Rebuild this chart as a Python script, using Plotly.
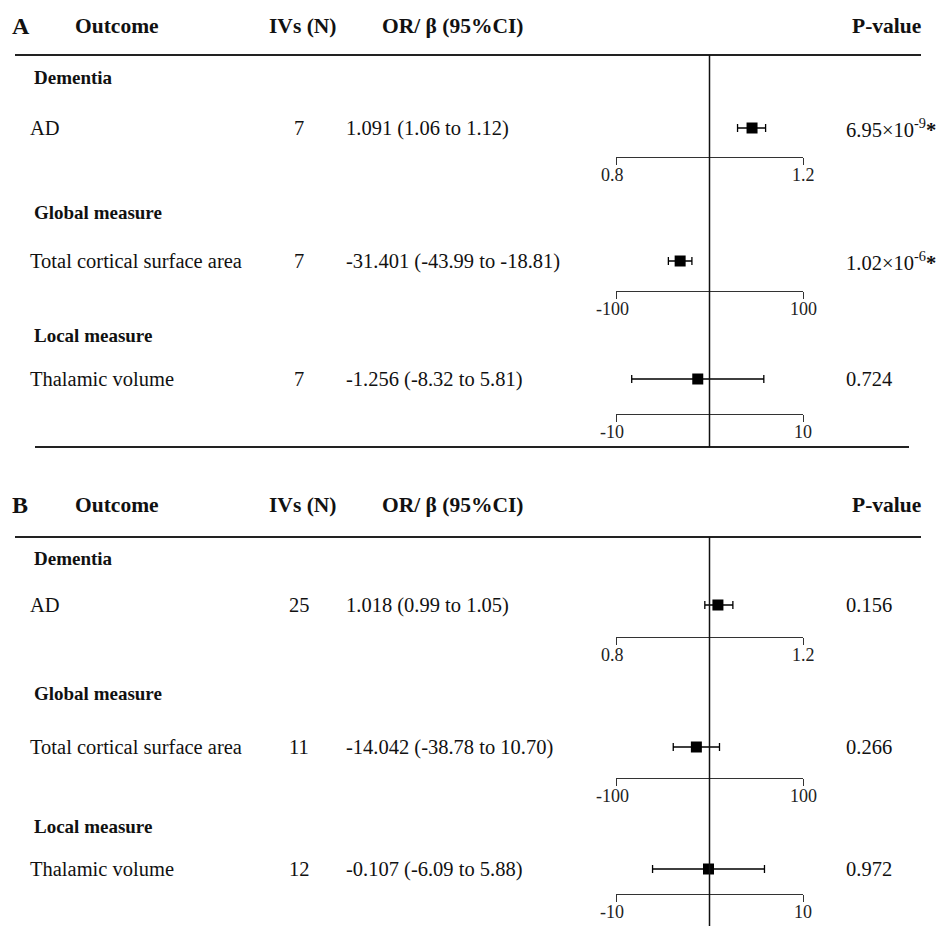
import plotly.graph_objects as go

# ---- data -------------------------------------------------------------
panels = ["A", "B"]
groups = ["Dementia", "Global measure", "Local measure"]
outcomes = ["AD", "Total cortical surface area", "Thalamic volume"]

ivs_a = [7, 7, 7]
est_a = [1.091, -31.401, -1.256]
lo_a = [1.06, -43.99, -8.32]
hi_a = [1.12, -18.81, 5.81]
p_a = ["6.95×10<sup>-9</sup>", "1.02×10<sup>-6</sup>", "0.724"]
sig_a = [True, True, False]

ivs_b = [25, 11, 12]
est_b = [1.018, -14.042, -0.107]
lo_b = [0.99, -38.78, -6.09]
hi_b = [1.05, 10.70, 5.88]
p_b = ["0.156", "0.266", "0.972"]
sig_b = [False, False, False]

axis_min = [0.8, -100, -10]
axis_max = [1.2, 100, 10]
axis_ticklabels = [["0.8", "1.2"], ["-100", "100"], ["-10", "10"]]
null_value = [1.0, 0.0, 0.0]

# ---- layout geometry (pixels, top-down) -------------------------------
W, H = 941, 926
SERIF = "Liberation Serif"
INK = "#111111"

panel_layout = [
    dict(header=26, rule=55, groups=[77, 212, 335], rows=[128, 261, 379],
         axes=[157, 291, 414], vline_end=447, bottom=447),
    dict(header=505, rule=537, groups=[558, 693, 826], rows=[605, 747, 869],
         axes=[637, 778, 894], vline_end=926, bottom=None),
]
forest_left, forest_right = 616, 803
col_name, col_ivs, col_est, col_p = 28, 299, 344, 844
label_gap = 18  # distance from axis line to tick-label centre


def px(x):
    return x / W


panel_data = [
    (ivs_a, est_a, lo_a, hi_a, p_a, sig_a),
    (ivs_b, est_b, lo_b, hi_b, p_b, sig_b),
]

fig = go.Figure()
annotations = []
shapes = []
layout_axes = {}


def text(x, y, s, size=20.5, bold=False, xanchor="left", xref="paper", xshift=0,
         color=INK):
    annotations.append(dict(
        x=px(x) if xref == "paper" else x, y=y, xref=xref, yref="y",
        text=f"<b>{s}</b>" if bold else s, xshift=xshift,
        showarrow=False, xanchor=xanchor, yanchor="middle",
        font=dict(family=SERIF, size=size, color=color),
    ))


axis_idx = 0
for pi, (label, geo, data) in enumerate(zip(panels, panel_layout, panel_data)):
    ivs, est, lo, hi, pv, sig = data

    # column headers
    text(10, geo["header"], label, size=24, bold=True)
    text(73, geo["header"], "Outcome", size=21.5, bold=True)
    text(267, geo["header"], "IVs (N)", size=21.5, bold=True)
    text(380, geo["header"], "OR/ β (95%CI)", size=21.5, bold=True)
    text(923, geo["header"], "P-value", size=21.5, bold=True, xanchor="right")

    shapes.append(dict(type="line", xref="paper", yref="y",
                       x0=px(15), x1=px(921), y0=geo["rule"], y1=geo["rule"],
                       line=dict(color="#222222", width=2)))
    if geo["bottom"] is not None:
        shapes.append(dict(type="line", xref="paper", yref="y",
                           x0=px(35), x1=px(909), y0=geo["bottom"], y1=geo["bottom"],
                           line=dict(color="#222222", width=2)))

    first_axis = None
    for k in range(3):
        axis_idx += 1
        xname = "x" if axis_idx == 1 else f"x{axis_idx}"
        lname = "xaxis" if axis_idx == 1 else f"xaxis{axis_idx}"
        if first_axis is None:
            first_axis = (xname, k)

        layout_axes[lname] = dict(
            domain=[px(forest_left), px(forest_right)],
            range=[axis_min[k], axis_max[k]],
            anchor="free", position=1 - geo["axes"][k] / H, side="bottom",
            showline=True, linecolor="#333333", linewidth=1,
            ticks="outside", ticklen=7, tickwidth=1, tickcolor="#333333",
            tickvals=[axis_min[k], axis_max[k]], showticklabels=False,
            showgrid=False, zeroline=False, fixedrange=True, automargin=False,
        )
        # tick labels placed just under the axis line
        text(axis_min[k], geo["axes"][k] + label_gap, axis_ticklabels[k][0],
             size=18, xanchor="center", xref=xname, xshift=-4, color="#222222")
        text(axis_max[k], geo["axes"][k] + label_gap, axis_ticklabels[k][1],
             size=18, xanchor="center", xref=xname, color="#222222")

        text(32, geo["groups"][k], groups[k], size=19, bold=True)
        text(col_name, geo["rows"][k], outcomes[k])
        text(col_ivs, geo["rows"][k], str(ivs[k]), xanchor="center")
        text(col_est, geo["rows"][k], f"{est[k]:.3f} ({lo[k]:.2f} to {hi[k]:.2f})")
        p_txt = pv[k] + ("<b>*</b>" if sig[k] else "")
        text(col_p, geo["rows"][k], p_txt)

        fig.add_trace(go.Scatter(
            x=[est[k]], y=[geo["rows"][k]], xaxis=xname, yaxis="y",
            mode="markers", cliponaxis=False, showlegend=False,
            marker=dict(symbol="square", size=11, color="black"),
            error_x=dict(type="data", symmetric=False,
                         array=[hi[k] - est[k]], arrayminus=[est[k] - lo[k]],
                         color="black", thickness=1.3, width=4),
        ))

    # null-effect reference line through the whole panel
    xname, k0 = first_axis
    shapes.append(dict(type="line", xref=xname, yref="y",
                       x0=null_value[k0], x1=null_value[k0],
                       y0=geo["rule"], y1=geo["vline_end"],
                       line=dict(color="#111111", width=1.5)))

fig.update_layout(
    template="none",
    width=W, height=H, margin=dict(l=0, r=0, t=0, b=0, pad=0), autosize=False,
    paper_bgcolor="white", plot_bgcolor="rgba(0,0,0,0)",
    yaxis=dict(range=[H, 0], domain=[0, 1], anchor="free", position=0,
               visible=False, fixedrange=True, automargin=False),
    annotations=annotations, shapes=shapes, showlegend=False,
    **layout_axes,
)

fig.write_html("out.html")
